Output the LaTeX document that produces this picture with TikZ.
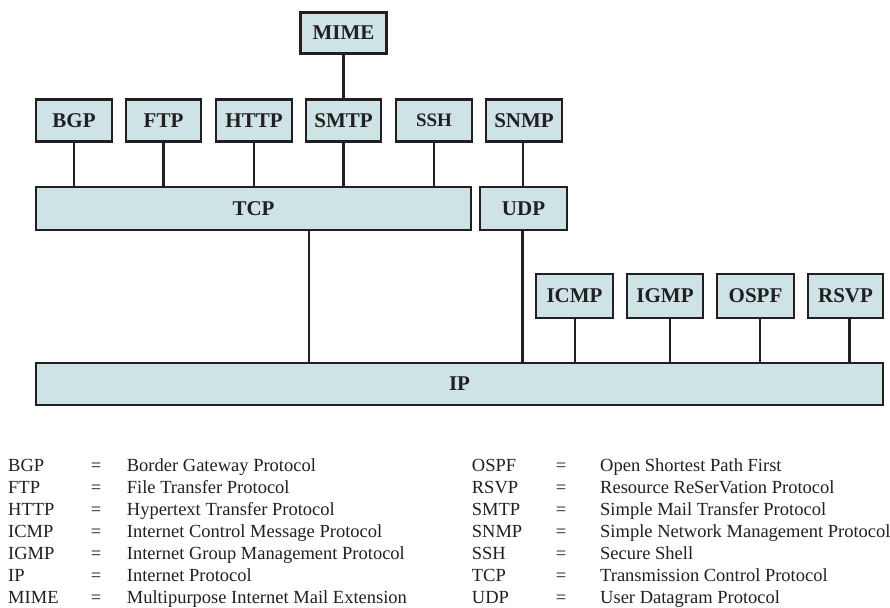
\documentclass[tikz,border=0pt]{standalone}
\usepackage{fontspec}
\setmainfont{Liberation Serif}
\definecolor{boxfill}{HTML}{CDE3E6}
\definecolor{ink}{HTML}{231F20}
\tikzset{
  box/.style={draw=ink, fill=boxfill, line width=2.6pt, inner sep=0pt,
    minimum height=42pt, font=\fontsize{21}{21}\selectfont\bfseries, text=ink},
  wire/.style={draw=ink, line width=2.2pt},
  leg/.style={inner sep=0pt, font=\fontsize{18.5}{18.5}\selectfont, text=ink}
}
\begin{document}
\begin{tikzpicture}[x=1pt,y=-1pt]
\useasboundingbox (0,0) rectangle (890,607);
% application layer
\node[box, minimum width=86pt, minimum height=41pt] (mime) at (343.5,33) {MIME};
\node[box, minimum width=76pt] (bgp)  at (74,120.5)   {BGP};
\node[box, minimum width=75pt] (ftp)  at (163.5,120.5) {FTP};
\node[box, minimum width=76pt] (http) at (254,120.5)  {HTTP};
\node[box, minimum width=75pt] (smtp) at (343.5,120.5) {SMTP};
\node[box, minimum width=76pt, font=\fontsize{19}{19}\selectfont\bfseries] (ssh) at (434,120.5) {SSH};
\node[box, minimum width=76pt] (snmp) at (524,120.5) {\raisebox{-5pt}{SNMP}};
% transport
\node[box, minimum width=435pt, minimum height=43pt] (tcp) at (253.5,208.5) {TCP};
\node[box, minimum width=87pt, minimum height=43pt] (udp) at (523.5,208.5) {UDP};
% network helpers
\node[box, minimum width=77pt, minimum height=44pt] (icmp) at (574.5,296) {ICMP};
\node[box, minimum width=76pt, minimum height=44pt] (igmp) at (665,296) {IGMP};
\node[box, minimum width=77pt, minimum height=44pt] (ospf) at (755.5,296) {OSPF};
\node[box, minimum width=75pt, minimum height=44pt] (rsvp) at (845.5,296) {RSVP};
% IP
\node[box, minimum width=847pt, minimum height=42pt] (ip) at (459.5,384) {IP};
% connectors
\draw[wire] (mime.south) -- (smtp.north);
\foreach \n in {bgp,ftp,http,smtp,ssh}{
  \draw[wire] (\n.south) -- (\n.south |- tcp.north);
}
\draw[wire] ([xshift=-1pt]snmp.south) -- ([xshift=-1pt]snmp.south |- udp.north);
\draw[wire] ([xshift=55.5pt]tcp.south) -- ([xshift=55.5pt]tcp.south |- ip.north);
\draw[wire] ([xshift=-1pt]udp.south) -- ([xshift=-1pt]udp.south |- ip.north);
\draw[wire] ([xshift=0.5pt]icmp.south) -- ([xshift=0.5pt]icmp.south |- ip.north);
\draw[wire] ([xshift=5pt]igmp.south) -- ([xshift=5pt]igmp.south |- ip.north);
\draw[wire] ([xshift=4.5pt]ospf.south) -- ([xshift=4.5pt]ospf.south |- ip.north);
\draw[wire] ([xshift=4pt]rsvp.south) -- ([xshift=4pt]rsvp.south |- ip.north);
% legend
\foreach \a/\d [count=\i] in {BGP/Border Gateway Protocol, FTP/File Transfer Protocol,
  HTTP/Hypertext Transfer Protocol, ICMP/Internet Control Message Protocol,
  IGMP/Internet Group Management Protocol, IP/Internet Protocol,
  MIME/Multipurpose Internet Mail Extension}{
  \node[leg, anchor=base west] (la\i) at (8,{471.7+22*(\i-1)}) {\a};
  \node[leg, anchor=base] (le\i) at (96,{471.7+22*(\i-1)}) {=};
  \node[leg, anchor=base west] (ld\i) at (126.7,{471.7+22*(\i-1)}) {\d};
}
\foreach \a/\d [count=\i] in {OSPF/Open Shortest Path First, RSVP/Resource ReSerVation Protocol,
  SMTP/Simple Mail Transfer Protocol, SNMP/Simple Network Management Protocol,
  SSH/Secure Shell, TCP/Transmission Control Protocol,
  UDP/User Datagram Protocol}{
  \node[leg, anchor=base west] (ra\i) at (471.7,{471.7+22*(\i-1)}) {\a};
  \node[leg, anchor=base] (re\i) at (561,{471.7+22*(\i-1)}) {=};
  \node[leg, anchor=base west] (rd\i) at (600,{471.7+22*(\i-1)}) {\d};
}
\end{tikzpicture}
\end{document}
